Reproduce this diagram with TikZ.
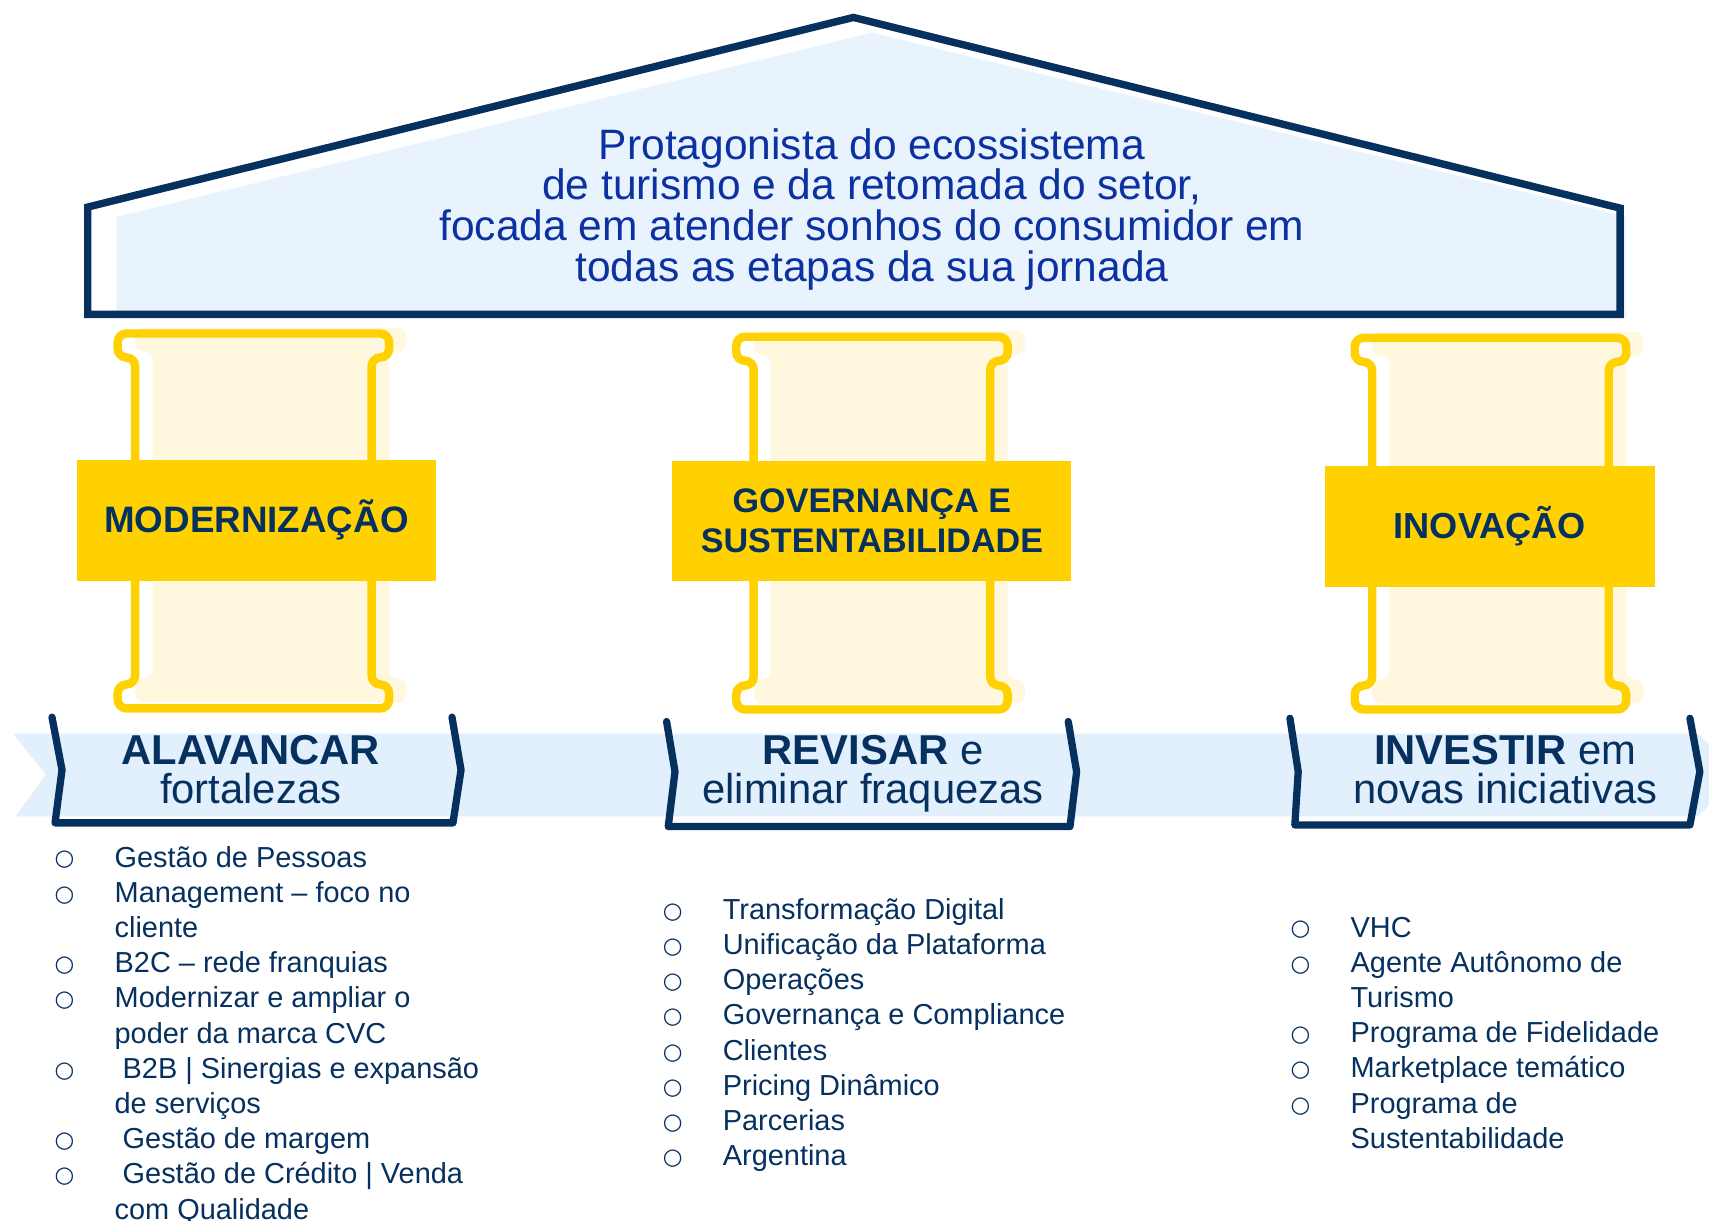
\documentclass[tikz,border=0pt]{standalone}
\usepackage{fontspec}
\setmainfont{Liberation Sans}
\newfontfamily\simbolo{DejaVu Sans}

\definecolor{azulescuro}{HTML}{06305E}
\definecolor{azulroyal}{HTML}{0B32A0}
\definecolor{azulclaro}{HTML}{E9F3FD}
\definecolor{faixa}{HTML}{E2EFFC}
\definecolor{ouro}{HTML}{FFD100}
\definecolor{creme}{HTML}{FFF8DF}

% marcadores das listas
\newcommand{\bola}{\makebox[5.5mm][l]{\raisebox{0.3pt}{\simbolo\fontsize{5.9}{9.19}\selectfont ○}}}
\newcommand{\semb}{\hspace*{5.5mm}}
% contorno de uma coluna: centro x, topo, base
\newcommand{\perfil}[3]{(#1-108.5,#2+22) -- (#1-124.5,#2+22) -- (#1-124.5,#2) -- (#1+124.5,#2) -- (#1+124.5,#2+22) -- (#1+108.5,#2+22) -- (#1+108.5,#3-22) -- (#1+124.5,#3-22) -- (#1+124.5,#3) -- (#1-124.5,#3) -- (#1-124.5,#3-22) -- (#1-108.5,#3-22) -- cycle}

\tikzset{
  pilar/.style={draw=ouro, line width=2.2pt, rounded corners=2.3pt},
  rotulo/.style={fill=ouro, text=azulescuro, align=center, inner sep=0pt},
  colchete/.style={draw=azulescuro, line width=1.9pt, line cap=round, line join=round},
  faixatxt/.style={text=azulescuro, align=center, inner sep=0pt, font=\fontsize{10.9}{10.3}\selectfont},
  lista/.style={text=azulescuro, align=left, inner sep=0pt, anchor=north west, font=\fontsize{7.55}{9.19}\selectfont}
}

\begin{document}
\begin{tikzpicture}[x=0.1mm, y=-0.1mm]
  \useasboundingbox (0,0) rectangle (1568,1120);

  % Telhado e visao
  \fill[azulclaro] (107,199) -- (800,30) -- (1492,199) -- (1492,292) -- (107,292) -- cycle;
  \draw[azulescuro, line width=1.93pt] (80.5,288.5) -- (80.5,190) -- (783,16) -- (1486.5,191) -- (1486.5,288.5) -- cycle;
  \node[text=azulroyal, align=center, inner sep=0pt, font=\fontsize{11.1}{10.6}\selectfont] (visao) at (800,192)
    {Protagonista do ecossistema\\de turismo e da retomada do setor,\\focada em atender sonhos do consumidor em\\todas as etapas da sua jornada};

  % Colunas
  \foreach \cx/\t/\b in {232.5/306/650, 800/309/651, 1367.5/310/651} {
    \fill[creme, rounded corners=2.3pt, shift={(16,-5.5)}] \perfil{\cx}{\t}{\b};
    \draw[pilar] \perfil{\cx}{\t}{\b};
  }

  % Rotulos das colunas
  \node[rotulo, minimum width=32.95mm, minimum height=11.1mm, font=\bfseries\fontsize{9.6}{10.5}\selectfont] (moder) at (235.3,477.5) {MODERNIZAÇÃO};
  \node[rotulo, minimum width=36.6mm, minimum height=11mm, font=\bfseries\fontsize{8.9}{10.5}\selectfont] (gover) at (800,478) {GOVERNANÇA E\\SUSTENTABILIDADE};
  \node[rotulo, minimum width=30.2mm, minimum height=11.05mm, font=\bfseries\fontsize{9.45}{10.5}\selectfont] (inova) at (1367,483) {INOVAÇÃO};

  % Faixa e chamadas
  \fill[faixa] (12,673) -- (1558,673) -- (1596,711) -- (1558,749) -- (14,749) -- (42,711) -- cycle;
  \draw[colchete] (47.7,658) -- (56.9,706.4) -- (50.5,755) -- (415.6,755) -- (423,706.4) -- (414.7,658);
  \draw[colchete] (611.6,662) -- (619.3,708) -- (613.1,758.4) -- (981.7,758.4) -- (987.8,708) -- (980.1,662);
  \draw[colchete] (1183.5,659) -- (1191.1,708) -- (1188,756.9) -- (1550.5,756.9) -- (1559.6,708) -- (1550.5,659);
  \node[faixatxt] (alav) at (230,706) {\textbf{ALAVANCAR}\\fortalezas};
  \node[faixatxt] (revis) at (801,710) {\textbf{REVISAR} e\\eliminar fraquezas};
  \node[faixatxt] (inves) at (1381,706) {\textbf{INVESTIR} em\\novas iniciativas};

  % Listas
  \node[lista] (fortes) at (49.5,775.6) {\bola Gestão de Pessoas\\
    \bola Management – foco no\\ \semb cliente\\
    \bola B2C – rede franquias\\
    \bola Modernizar e ampliar o\\ \semb poder da marca CVC\\
    \bola\ B2B | Sinergias e expansão\\ \semb de serviços\\
    \bola\ Gestão de margem\\
    \bola\ Gestão de Crédito | Venda\\ \semb com Qualidade};
  \node[lista] (fracas) at (607.5,823.6) {\bola Transformação Digital\\
    \bola Unificação da Plataforma\\
    \bola Operações\\
    \bola Governança e Compliance\\
    \bola Clientes\\
    \bola Pricing Dinâmico\\
    \bola Parcerias\\
    \bola Argentina};
  \node[lista] (novas) at (1183.5,840.6) {\bola VHC\\
    \bola Agente Autônomo de\\ \semb Turismo\\
    \bola Programa de Fidelidade\\
    \bola Marketplace temático\\
    \bola Programa de\\ \semb Sustentabilidade};
\end{tikzpicture}
\end{document}
